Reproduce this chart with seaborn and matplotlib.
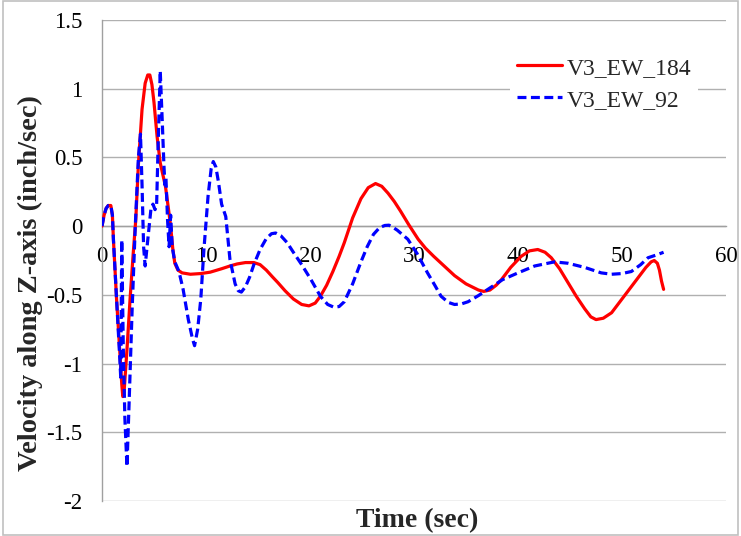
import numpy as np
import pandas as pd
import matplotlib
matplotlib.use("Agg")
import matplotlib.pyplot as plt
import seaborn as sns

# ---- data ----
t_184 = [0.0, 0.2, 0.4, 0.6, 0.85, 1.0, 1.1, 1.4, 1.7, 1.9, 2.0, 2.1, 2.4, 2.7, 3.0,
         3.25, 3.5, 3.85, 4.15, 4.4, 4.6, 4.8, 5.0, 5.3, 5.6, 6.1, 6.4, 6.6, 6.8, 7.0,
         7.3, 7.7, 8.5, 9.5, 10.4, 11.5, 12.3, 13.0, 13.8, 14.6, 15.2, 15.8, 16.4, 16.9,
         17.6, 18.4, 19.2, 19.9, 20.5, 21.0, 21.6, 22.2, 22.8, 23.3, 24.1, 24.9, 25.6,
         26.3, 26.9, 27.5, 28.1, 28.7, 29.5, 30.4, 31.1, 31.9, 32.9, 33.9, 35.0, 36.2,
         36.7, 37.3, 37.9, 38.4, 39.3, 40.3, 41.1, 41.9, 42.6, 43.2, 44.0, 44.8, 45.6,
         46.4, 47.0, 47.5, 48.2, 49.0, 50.0, 51.2, 52.3, 52.8, 53.1, 53.4, 53.6, 53.8, 54.0]
v_184 = [0.00, 0.08, 0.13, 0.15, 0.15, 0.08, -0.10, -0.53, -0.90, -1.15, -1.24, -1.23,
         -0.90, -0.53, -0.20, 0.05, 0.45, 0.85, 1.04, 1.10, 1.10, 1.03, 0.90, 0.65, 0.46,
         0.29, 0.12, 0.00, -0.16, -0.27, -0.32, -0.34, -0.35, -0.345, -0.335, -0.31,
         -0.29, -0.275, -0.265, -0.265, -0.28, -0.32, -0.37, -0.41, -0.47, -0.53, -0.57,
         -0.58, -0.56, -0.51, -0.43, -0.33, -0.22, -0.12, 0.06, 0.20, 0.28, 0.31, 0.29,
         0.24, 0.18, 0.11, 0.01, -0.095, -0.16, -0.22, -0.29, -0.36, -0.42, -0.465,
         -0.475, -0.465, -0.43, -0.39, -0.30, -0.22, -0.18, -0.17, -0.19, -0.23, -0.31,
         -0.41, -0.51, -0.60, -0.66, -0.68, -0.67, -0.63, -0.53, -0.41, -0.30, -0.26,
         -0.25, -0.27, -0.32, -0.40, -0.46]

t_92 = [0.0, 0.2, 0.4, 0.6, 0.85, 1.0, 1.1, 1.4, 1.7, 1.8, 1.9, 2.05, 2.2, 2.4, 2.6,
        2.9, 3.2, 3.5, 3.7, 3.85, 4.0, 4.15, 4.4, 4.7, 4.9, 5.1, 5.25, 5.4, 5.6, 5.8,
        5.95, 6.05, 6.15, 6.3, 6.45, 6.6, 6.75, 7.0, 7.4, 7.8, 8.3, 8.7, 8.9, 9.2, 9.5,
        9.8, 10.2, 10.5, 10.7, 10.95, 11.2, 11.5, 11.9, 12.3, 12.8, 13.1, 13.4, 13.8,
        14.2, 14.6, 15.2, 15.8, 16.3, 16.7, 17.2, 17.8, 18.4, 19.2, 20.1, 21.0, 21.7,
        22.3, 22.8, 23.3, 24.1, 24.9, 25.5, 26.1, 26.7, 27.2, 27.6, 28.0, 28.4, 29.4,
        30.3, 31.3, 32.0, 32.6, 33.3, 33.9, 34.6, 35.2, 36.2, 37.1, 38.5, 40.0, 41.6,
        43.5, 44.8, 46.4, 48.0, 49.0, 50.0, 50.9, 51.8, 52.5, 53.3, 54.0]
v_92 = [0.00, 0.08, 0.13, 0.15, 0.15, 0.08, -0.10, -0.53, -0.95, -1.10, -0.10, -0.90,
        -1.40, -1.75, -1.30, -0.60, 0.00, 0.50, 0.67, 0.30, -0.15, -0.29, -0.10, 0.12,
        0.16, 0.12, 0.15, 0.60, 1.13, 0.75, 0.45, 0.30, 0.35, 0.05, -0.15, 0.08, -0.15,
        -0.26, -0.33, -0.46, -0.68, -0.82, -0.87, -0.75, -0.53, -0.17, 0.22, 0.42, 0.47,
        0.43, 0.32, 0.16, 0.07, -0.24, -0.42, -0.47, -0.48, -0.44, -0.37, -0.28, -0.17,
        -0.09, -0.055, -0.05, -0.07, -0.12, -0.19, -0.28, -0.39, -0.51, -0.57, -0.59,
        -0.585, -0.55, -0.42, -0.26, -0.15, -0.06, -0.01, 0.005, 0.007, -0.01, -0.03,
        -0.095, -0.20, -0.34, -0.43, -0.51, -0.555, -0.57, -0.565, -0.55, -0.505, -0.46,
        -0.39, -0.34, -0.29, -0.26, -0.27, -0.30, -0.34, -0.35, -0.345, -0.33, -0.28,
        -0.23, -0.21, -0.19]

series_names = ["V3_EW_184", "V3_EW_92"]
x_ticks = [0, 10, 20, 30, 40, 50, 60]
y_ticks = [-2, -1.5, -1, -0.5, 0, 0.5, 1, 1.5]
y_tick_labels = ["-2", "-1.5", "-1", "-0.5", "0", "0.5", "1", "1.5"]
x_label = "Time (sec)"
y_label = "Velocity along Z-axis (inch/sec)"

df = pd.concat([
    pd.DataFrame({"t": t_184, "v": v_184, "series": series_names[0]}),
    pd.DataFrame({"t": t_92, "v": v_92, "series": series_names[1]}),
], ignore_index=True)

sns.set_theme(style="white")
plt.rcParams["font.family"] = ["Liberation Serif", "DejaVu Serif"]

fig = plt.figure(figsize=(7.41, 5.36), dpi=100)
ax = fig.add_axes([102 / 741, 1 - 501 / 536, 624 / 741, 481 / 536])

sns.lineplot(data=df, x="t", y="v", hue="series", style="series",
             palette={series_names[0]: "#ff0000", series_names[1]: "#0000ff"},
             dashes={series_names[0]: "", series_names[1]: (2.8, 1.4)},
             estimator=None, sort=False, linewidth=2.3, ax=ax, legend=True, zorder=3)
for line in ax.get_lines():
    line.set_solid_joinstyle("round")
    line.set_dash_joinstyle("round")

ax.set_xlim(0, 60)
ax.set_ylim(-2, 1.5)
ax.set_xticks(x_ticks)
ax.set_xticklabels([str(x) for x in x_ticks])
ax.set_yticks(y_ticks)
ax.set_yticklabels(y_tick_labels)

for y in y_ticks:
    ax.axhline(y, color="#b0b0b0", lw=1.0, zorder=1)

for s in ["top", "right"]:
    ax.spines[s].set_visible(False)
ax.spines["left"].set_color("#a0a0a0")
ax.spines["left"].set_linewidth(1.0)
ax.spines["bottom"].set_position(("data", 0))
ax.spines["bottom"].set_color("#a0a0a0")
ax.spines["bottom"].set_linewidth(1.0)

ax.tick_params(axis="x", length=0, pad=14, labelsize=16.5, colors="black")
ax.tick_params(axis="y", length=0, pad=14, labelsize=16.5, colors="black")

ax.set_xlabel(x_label, fontsize=20, fontweight="bold")
ax.set_ylabel(y_label, fontsize=20.5, fontweight="bold")
ax.xaxis.set_label_coords(0.505, -0.04)
ax.xaxis.label.set_va("center")
ax.yaxis.set_label_coords(-0.115, 0.453)
ax.yaxis.label.set_va("center")

leg = ax.legend(loc="upper left", bbox_to_anchor=(510 / 741, 1 - 50 / 536),
                bbox_transform=fig.transFigure, frameon=True, fontsize=17,
                handlelength=1.9, handletextpad=0.2, labelspacing=0.45,
                borderpad=0.3, borderaxespad=0)
leg.get_frame().set_facecolor("white")
leg.get_frame().set_edgecolor("none")
leg.get_frame().set_alpha(1.0)
leg.set_zorder(5)

fig.patches.append(plt.Rectangle((0.004, 0.002), 0.992, 0.996, transform=fig.transFigure,
                                 fill=False, edgecolor="#c0c0c0", lw=1.2))

fig.savefig("out.png", dpi=100)
